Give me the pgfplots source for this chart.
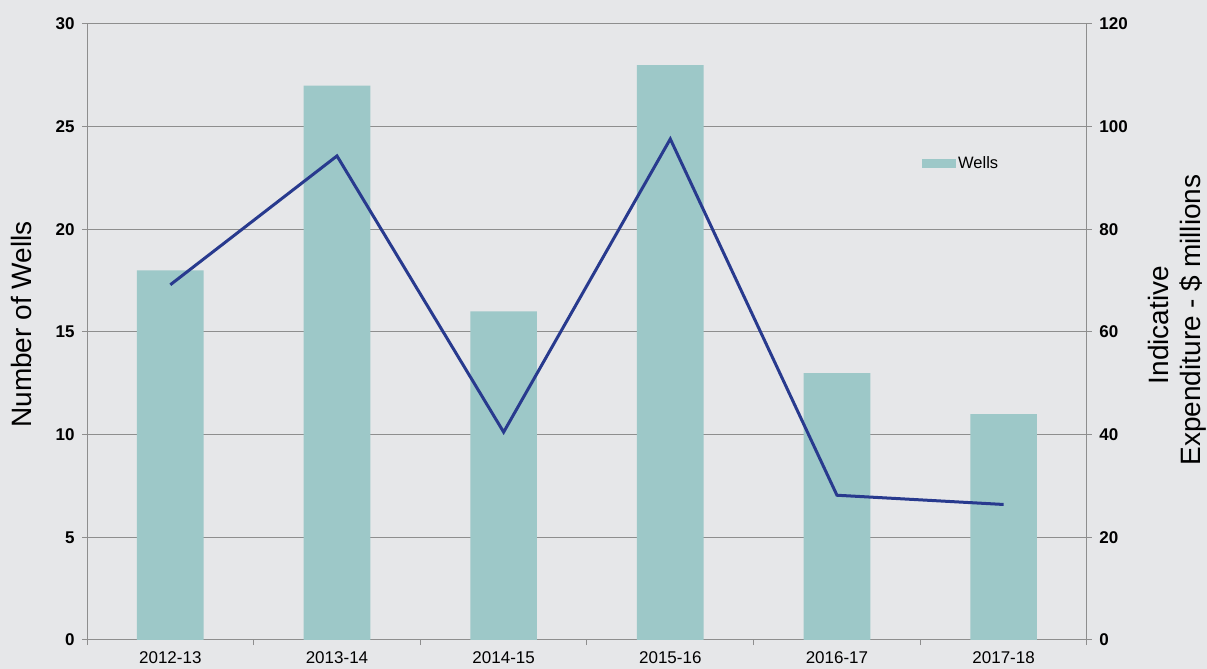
\documentclass[border=0pt]{standalone}
\usepackage{pgfplots}
\pgfplotsset{compat=1.18}
\usepackage{fontspec}
\setmainfont{Liberation Sans}
\definecolor{bg}{HTML}{E6E7E9}
\definecolor{barc}{HTML}{9DC8C8}
\definecolor{linec}{HTML}{283A8E}
\definecolor{gridc}{HTML}{8E8E8E}
\begin{document}
\begin{tikzpicture}[x=1pt,y=1pt]
\useasboundingbox[fill=bg] (-87,-29) rectangle (1120,640);
\begin{axis}[
  at={(0,0)}, anchor=south west, scale only axis,
  width=1000pt, height=616pt,
  xmin=-0.5, xmax=5.5, ymin=0, ymax=30,
  axis x line*=bottom, axis y line*=left,
  axis line style={gridc, line width=1pt, -},
  tick style={gridc, line width=1pt},
  tick align=outside, major tick length=5pt,
  xtick={-0.5,0.5,...,5.5}, xticklabels={},
  extra x ticks={0,1,2,3,4,5},
  extra x tick labels={2012-13,2013-14,2014-15,2015-16,2016-17,2017-18},
  extra x tick style={major tick length=0pt, grid=none},
  xticklabel style={font=\fontsize{17}{17}\selectfont, text=black, yshift=-8pt},
  ytick={0,5,...,30},
  ymajorgrids, grid style={gridc, line width=1pt},
  yticklabel style={font=\fontsize{17}{17}\selectfont\bfseries, text=black, xshift=-4pt},
  /pgf/number format/assume math mode=true,
  legend style={at={(0.835,0.774)}, anchor=west, draw=none, fill=none,
    font=\fontsize{16.5}{17}\selectfont, inner sep=0pt},
  legend image code/.code={\fill[barc] (0pt,-4.5pt) rectangle (34pt,4.5pt);},
]
\addplot[ybar, bar width=66.7pt, fill=barc, draw=none] coordinates {(0,18) (1,27) (2,16) (3,28) (4,13) (5,11)};
\addlegendentry{Wells}
\end{axis}
\begin{axis}[
  at={(0,0)}, anchor=south west, scale only axis,
  width=1000pt, height=616pt,
  xmin=-0.5, xmax=5.5, ymin=0, ymax=120,
  axis x line=none, axis y line*=right,
  axis line style={gridc, line width=1pt, -},
  tick style={gridc, line width=1pt},
  tick align=outside, major tick length=5pt,
  ytick={0,20,...,120},
  yticklabel style={font=\fontsize{17}{17}\selectfont\bfseries, text=black, xshift=4pt},
  /pgf/number format/assume math mode=true,
]
\addplot[linec, line width=3pt, mark=none] coordinates {(0,69.2) (1,94.3) (2,40.5) (3,97.6) (4,28.2) (5,26.4)};
\end{axis}
\node[rotate=90, anchor=base, font=\fontsize{28}{28}\selectfont] at (-55,315.5) {Number of Wells};
\node[rotate=90, anchor=base, font=\fontsize{28}{28}\selectfont] at (1081,315) {Indicative};
\node[rotate=90, anchor=base, font=\fontsize{28}{28}\selectfont] at (1113,320) {Expenditure - \$ millions};
\end{tikzpicture}
\end{document}
